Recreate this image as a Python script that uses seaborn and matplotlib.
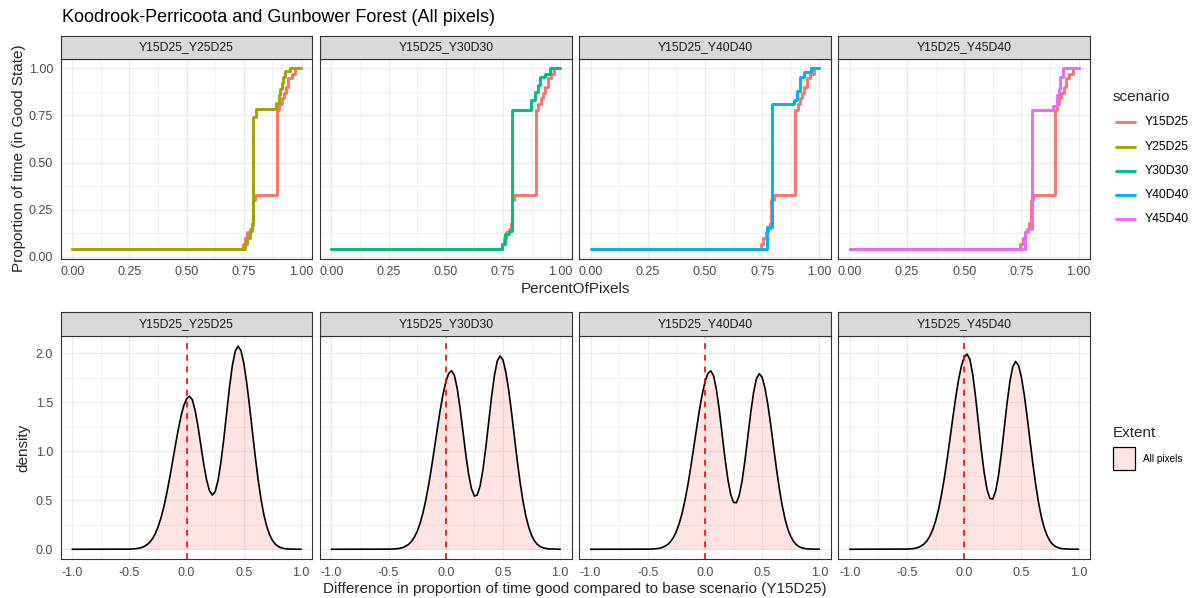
import numpy as np
import pandas as pd
import matplotlib
matplotlib.use("Agg")
import matplotlib.pyplot as plt
import seaborn as sns
from matplotlib.patches import Rectangle
from matplotlib.lines import Line2D

# ---------------- data ----------------
TITLE = "Koodrook-Perricoota and Gunbower Forest (All pixels)"
SCENARIOS = ["Y15D25", "Y25D25", "Y30D30", "Y40D40", "Y45D40"]
COLORS = ["#F8766D", "#A3A500", "#00BF7D", "#00B0F6", "#E76BF3"]
PANELS = ["Y15D25_Y25D25", "Y15D25_Y30D30", "Y15D25_Y40D40", "Y15D25_Y45D40"]

# step curves: PercentOfPixels (x) -> proportion of time in good state (y), steps-post
Y15D25_X = [0.0, 0.745, 0.755, 0.765, 0.775, 0.785, 0.79, 0.8, 0.895, 0.905, 0.915, 0.925, 0.935, 0.945, 0.96, 0.975, 1.0]
Y15D25_Y = [0.04, 0.07, 0.10, 0.13, 0.15, 0.18, 0.30, 0.33, 0.78, 0.81, 0.84, 0.87, 0.90, 0.95, 0.97, 1.00, 1.00]
Y25D25_X = [0.0, 0.755, 0.765, 0.775, 0.785, 0.79, 0.805, 0.893, 0.905, 0.91, 0.915, 0.922, 0.93, 0.952, 1.0]
Y25D25_Y = [0.04, 0.07, 0.10, 0.135, 0.17, 0.74, 0.785, 0.815, 0.86, 0.89, 0.92, 0.955, 0.985, 1.00, 1.00]
Y30D30_X = [0.0, 0.745, 0.76, 0.775, 0.79, 0.872, 0.89, 0.905, 0.912, 0.934, 0.956, 1.0]
Y30D30_Y = [0.04, 0.07, 0.12, 0.14, 0.78, 0.83, 0.875, 0.91, 0.955, 0.97, 1.00, 1.00]
Y40D40_X = [0.0, 0.773, 0.792, 0.89, 0.902, 0.917, 0.934, 0.964, 1.0]
Y40D40_Y = [0.04, 0.16, 0.81, 0.83, 0.88, 0.955, 0.98, 1.00, 1.00]
Y45D40_X = [0.0, 0.768, 0.78, 0.797, 0.89, 0.905, 0.915, 0.919, 0.934, 1.0]
Y45D40_Y = [0.04, 0.13, 0.15, 0.78, 0.80, 0.857, 0.89, 0.955, 1.00, 1.00]

# density of difference (per panel)
DENS_X = [-1.0, -0.5, -0.475, -0.45, -0.425, -0.4, -0.375, -0.35, -0.325, -0.3, -0.275, -0.25,
          -0.225, -0.2, -0.175, -0.15, -0.125, -0.1, -0.075, -0.05, -0.025, 0.0, 0.025, 0.05,
          0.075, 0.1, 0.125, 0.15, 0.175, 0.2, 0.225, 0.25, 0.275, 0.3, 0.325, 0.35, 0.375,
          0.4, 0.425, 0.45, 0.475, 0.5, 0.525, 0.55, 0.575, 0.6, 0.625, 0.65, 0.675, 0.7,
          0.725, 0.75, 0.775, 0.8, 0.825, 0.85, 0.875, 0.9, 1.0]
DENS_Y25D25 = [0.0, 0.001, 0.003, 0.005, 0.009, 0.016, 0.026, 0.043, 0.068, 0.105, 0.157, 0.226,
               0.317, 0.429, 0.562, 0.714, 0.878, 1.047, 1.209, 1.351, 1.463, 1.535, 1.561, 1.524,
               1.413, 1.250, 1.057, 0.867, 0.707, 0.596, 0.553, 0.587, 0.702, 0.887, 1.123, 1.388,
               1.652, 1.872, 2.020, 2.070, 2.027, 1.898, 1.704, 1.463, 1.203, 0.948, 0.714, 0.515,
               0.356, 0.236, 0.150, 0.091, 0.053, 0.029, 0.016, 0.008, 0.004, 0.002, 0.0]
DENS_Y30D30 = [0.0, 0.001, 0.002, 0.003, 0.006, 0.010, 0.018, 0.031, 0.050, 0.080, 0.123, 0.183,
               0.264, 0.369, 0.501, 0.655, 0.834, 1.025, 1.221, 1.411, 1.576, 1.707, 1.791, 1.821,
               1.774, 1.638, 1.437, 1.200, 0.966, 0.762, 0.615, 0.543, 0.553, 0.645, 0.814, 1.038,
               1.296, 1.553, 1.772, 1.920, 1.971, 1.929, 1.806, 1.621, 1.393, 1.145, 0.902, 0.680,
               0.491, 0.339, 0.225, 0.143, 0.086, 0.050, 0.028, 0.015, 0.008, 0.004, 0.0]
DENS_Y40D40 = [0.0, 0.001, 0.002, 0.003, 0.006, 0.010, 0.018, 0.031, 0.050, 0.080, 0.123, 0.183,
               0.264, 0.369, 0.501, 0.655, 0.834, 1.025, 1.221, 1.411, 1.576, 1.707, 1.791, 1.820,
               1.770, 1.628, 1.418, 1.171, 0.925, 0.713, 0.558, 0.477, 0.475, 0.553, 0.703, 0.912,
               1.152, 1.394, 1.601, 1.741, 1.790, 1.752, 1.641, 1.473, 1.266, 1.040, 0.820, 0.618,
               0.446, 0.308, 0.204, 0.130, 0.079, 0.046, 0.025, 0.014, 0.007, 0.003, 0.0]
DENS_Y45D40 = [0.0, 0.002, 0.003, 0.006, 0.011, 0.020, 0.034, 0.055, 0.087, 0.135, 0.200, 0.289,
               0.404, 0.547, 0.716, 0.911, 1.120, 1.335, 1.542, 1.723, 1.867, 1.958, 1.990, 1.935,
               1.780, 1.549, 1.280, 1.011, 0.778, 0.609, 0.517, 0.512, 0.594, 0.753, 0.976, 1.233,
               1.492, 1.713, 1.862, 1.915, 1.875, 1.756, 1.576, 1.354, 1.113, 0.877, 0.661, 0.477,
               0.329, 0.218, 0.139, 0.084, 0.049, 0.027, 0.015, 0.007, 0.004, 0.002, 0.0]

TOP_XTICKS = [0.0, 0.25, 0.5, 0.75, 1.0]
TOP_XLABELS = ["0.00", "0.25", "0.50", "0.75", "1.00"]
TOP_YTICKS = [0.0, 0.25, 0.5, 0.75, 1.0]
TOP_YLABELS = ["0.00", "0.25", "0.50", "0.75", "1.00"]
BOT_XTICKS = [-1.0, -0.5, 0.0, 0.5, 1.0]
BOT_XLABELS = ["-1.0", "-0.5", "0.0", "0.5", "1.0"]
BOT_YTICKS = [0.0, 0.5, 1.0, 1.5, 2.0]
BOT_YLABELS = ["0.0", "0.5", "1.0", "1.5", "2.0"]
REF_LINE = 0.0
EXTENT_LABEL = "All pixels"

STEPS = {
    "Y15D25": (Y15D25_X, Y15D25_Y),
    "Y25D25": (Y25D25_X, Y25D25_Y),
    "Y30D30": (Y30D30_X, Y30D30_Y),
    "Y40D40": (Y40D40_X, Y40D40_Y),
    "Y45D40": (Y45D40_X, Y45D40_Y),
}
DENS = [DENS_Y25D25, DENS_Y30D30, DENS_Y40D40, DENS_Y45D40]

# ---------------- style ----------------
sns.set_style("white")
plt.rcParams["font.family"] = ["Liberation Sans", "DejaVu Sans"]

W, H = 1199, 598
fig = plt.figure(figsize=(W / 100, H / 100), dpi=100)
fig.patch.set_facecolor("white")

BORDER = "#333333"
GRID = "#EBEBEB"
TICKLAB = "#4D4D4D"


def ax_px(left, top, width, height):
    return fig.add_axes([left / W, 1 - (top + height) / H, width / W, height / H])


def style_panel(ax, xt, xl, yt, yl, xmin_t, ymin_t, show_y):
    ax.set_facecolor("white")
    for s in ax.spines.values():
        s.set_color(BORDER)
        s.set_linewidth(0.8)
    ax.set_xticks(xt)
    ax.set_xticklabels(xl)
    ax.set_xticks(xmin_t, minor=True)
    ax.set_yticks(yt)
    ax.set_yticks(ymin_t, minor=True)
    ax.grid(which="major", color=GRID, lw=0.9)
    ax.grid(which="minor", color=GRID, lw=0.45)
    ax.set_axisbelow(True)
    ax.tick_params(which="major", length=3.5, width=0.8, color=BORDER,
                   labelsize=9, labelcolor=TICKLAB, pad=2)
    ax.tick_params(which="minor", length=0)
    if show_y:
        ax.set_yticklabels(yl)
    else:
        ax.tick_params(axis="y", which="major", length=0, labelleft=False)
    ax.set_xlabel("")
    ax.set_ylabel("")


def strip(left, top, width, height, text):
    s = ax_px(left, top, width, height)
    s.set_facecolor("#D9D9D9")
    s.set_xticks([])
    s.set_yticks([])
    for sp in s.spines.values():
        sp.set_color(BORDER)
        sp.set_linewidth(0.8)
    s.text(0.5, 0.5, text, ha="center", va="center", fontsize=8.8, color="#1A1A1A",
           transform=s.transAxes)


LEFTS = [60.8, 320.0, 579.2, 838.4]
PW = 251.6
TOP_STRIP_Y, TOP_PANEL_Y, TOP_PANEL_H = 36.0, 59.0, 199.5
BOT_STRIP_Y, BOT_PANEL_Y, BOT_PANEL_H = 312.5, 336.0, 223.4

pal = dict(zip(SCENARIOS, COLORS))

# ---------------- top row ----------------
for i, panel in enumerate(PANELS):
    comp = panel.split("_")[1]
    rows = []
    for sc in ["Y15D25", comp]:
        xs, ys = STEPS[sc]
        rows.append(pd.DataFrame({"PercentOfPixels": xs, "prop": ys, "scenario": sc}))
    df = pd.concat(rows, ignore_index=True)
    ax = ax_px(LEFTS[i], TOP_PANEL_Y, PW, TOP_PANEL_H)
    sns.lineplot(data=df, x="PercentOfPixels", y="prop", hue="scenario",
                 hue_order=["Y15D25", comp], palette=pal, estimator=None, sort=False,
                 drawstyle="steps-post", lw=2.1, legend=False, ax=ax)
    ax.set_xlim(-0.05, 1.05)
    ax.set_ylim(-0.008, 1.048)
    style_panel(ax, TOP_XTICKS, TOP_XLABELS, TOP_YTICKS, TOP_YLABELS,
                [0.125, 0.375, 0.625, 0.875], [0.125, 0.375, 0.625, 0.875], i == 0)
    strip(LEFTS[i], TOP_STRIP_Y, PW, TOP_PANEL_Y - TOP_STRIP_Y, panel)

# ---------------- bottom row ----------------
for i, panel in enumerate(PANELS):
    ddf = pd.DataFrame({"diff": DENS_X, "density": DENS[i]})
    ax = ax_px(LEFTS[i], BOT_PANEL_Y, PW, BOT_PANEL_H)
    ax.fill_between(ddf["diff"], 0, ddf["density"], color="#F8766D", alpha=0.2, lw=0)
    sns.lineplot(data=ddf, x="diff", y="density", color="black", lw=1.2,
                 estimator=None, sort=False, ax=ax)
    ax.axvline(REF_LINE, color="red", lw=1.2, ls=(0, (3.5, 3.5)))
    ax.set_xlim(-1.1, 1.1)
    ax.set_ylim(-0.1035, 2.1745)
    style_panel(ax, BOT_XTICKS, BOT_XLABELS, BOT_YTICKS, BOT_YLABELS,
                [-0.75, -0.25, 0.25, 0.75], [0.25, 0.75, 1.25, 1.75], i == 0)
    strip(LEFTS[i], BOT_STRIP_Y, PW, BOT_PANEL_Y - BOT_STRIP_Y, panel)

# ---------------- text ----------------
fig.text(62 / W, 1 - 18 / H, TITLE, ha="left", va="center", fontsize=13, color="black")
fig.text(575 / W, 1 - 289 / H, "PercentOfPixels", ha="center", va="center", fontsize=11)
fig.text(575 / W, 1 - 589 / H,
         "Difference in proportion of time good compared to base scenario (Y15D25)",
         ha="center", va="center", fontsize=11)
fig.text(19.5 / W, 1 - 158.5 / H, "Proportion of time (in Good State)", rotation=90,
         ha="center", va="center", fontsize=11)
fig.text(23 / W, 1 - 448 / H, "density", rotation=90, ha="center", va="center", fontsize=11)

# ---------------- legends ----------------
fig.text(1113 / W, 1 - 97 / H, "scenario", ha="left", va="center", fontsize=11)
for j, (sc, col) in enumerate(zip(SCENARIOS, COLORS)):
    yy = 1 - (122.3 + j * 24.2) / H
    fig.add_artist(Line2D([1116 / W, 1135 / W], [yy, yy], color=col, lw=2.1,
                          transform=fig.transFigure))
    fig.text(1145 / W, yy, sc, ha="left", va="center", fontsize=8.8, color="black")

fig.text(1113 / W, 1 - 433 / H, "Extent", ha="left", va="center", fontsize=11)
fig.add_artist(Rectangle((1113 / W, 1 - 470 / H), 22 / W, 23 / H, transform=fig.transFigure,
                         facecolor="#FDE3E1", edgecolor="black", lw=0.9))
fig.text(1143 / W, 1 - 459 / H, EXTENT_LABEL, ha="left", va="center", fontsize=7.2, color="black")

fig.savefig("out.png", dpi=100, facecolor="white")
